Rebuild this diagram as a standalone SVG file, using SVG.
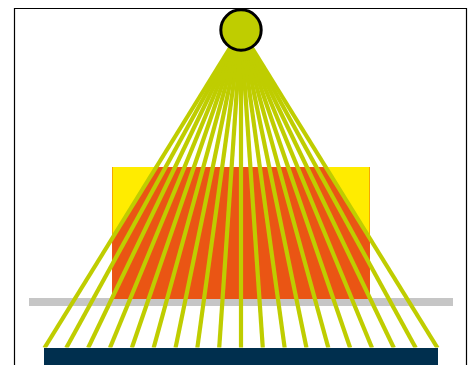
<svg xmlns="http://www.w3.org/2000/svg" width="476" height="365" viewBox="0 0 476 365">
<style>
.ray{stroke:#bfcd00;stroke-width:4.2;fill:none}
</style>
<defs><clipPath id="c"><rect x="0" y="0" width="476" height="347.5"/></clipPath></defs>
<rect width="476" height="365" fill="#fff"/>
<path id="frame" d="M14.5 365V8.5H466.5V365" fill="none" stroke="#000" stroke-width="1.2"/>
<g id="yellow-block"><rect x="112.5" y="167" width="257" height="132" fill="#ffec00"/>
<path d="M112.5 167V299M369.5 167V299" stroke="#f5a800" stroke-width="1" fill="none"/></g>
<rect id="bar" x="29" y="298" width="424" height="8" fill="#c6c6c6"/>
<polygon id="orange" points="156,167 326,167 370,238 370,299 112,299 112,238" fill="#ea5514"/>
<rect id="base" x="44" y="348" width="394" height="17" fill="#002f4e"/>
<g id="connectors" class="ray" clip-path="url(#c)">
<line x1="241" y1="30" x2="44.4" y2="348"/>
<line x1="241" y1="30" x2="66.2" y2="348"/>
<line x1="241" y1="30" x2="88.1" y2="348"/>
<line x1="241" y1="30" x2="109.9" y2="348"/>
<line x1="241" y1="30" x2="131.8" y2="348"/>
<line x1="241" y1="30" x2="153.6" y2="348"/>
<line x1="241" y1="30" x2="175.5" y2="348"/>
<line x1="241" y1="30" x2="197.3" y2="348"/>
<line x1="241" y1="30" x2="219.2" y2="348"/>
<line x1="241" y1="30" x2="241" y2="348"/>
<line x1="241" y1="30" x2="262.8" y2="348"/>
<line x1="241" y1="30" x2="284.7" y2="348"/>
<line x1="241" y1="30" x2="306.5" y2="348"/>
<line x1="241" y1="30" x2="328.4" y2="348"/>
<line x1="241" y1="30" x2="350.2" y2="348"/>
<line x1="241" y1="30" x2="372.1" y2="348"/>
<line x1="241" y1="30" x2="393.9" y2="348"/>
<line x1="241" y1="30" x2="415.8" y2="348"/>
<line x1="241" y1="30" x2="437.6" y2="348"/>
</g>
<g id="source"><circle cx="241" cy="30" r="20.2" fill="#bfcd00" stroke="#000" stroke-width="3"/></g>
</svg>
